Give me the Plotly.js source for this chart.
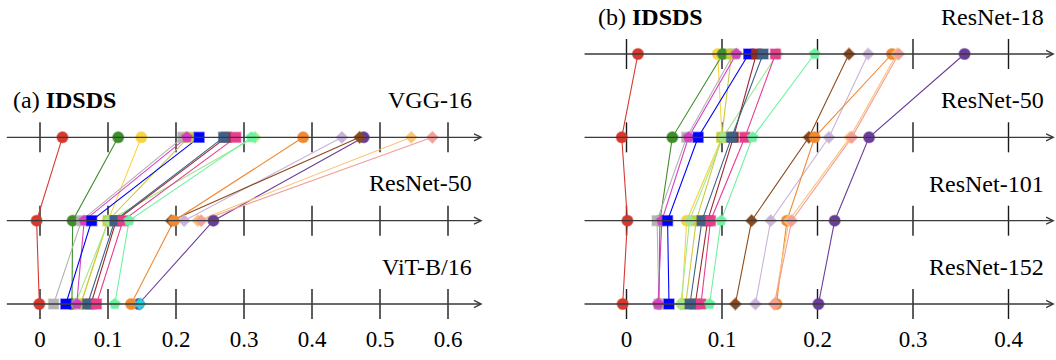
<!DOCTYPE html>
<html><head><meta charset="utf-8">
<script src="https://cdn.plot.ly/plotly-3.0.1.min.js"></script>
<style>html,body{margin:0;padding:0;background:#fff}#chart{width:1056px;height:360px}</style>
</head><body><div id="chart"></div>
<script>
// ---- data ----
const rowsA = ['VGG-16', 'ResNet-50', 'ViT-B/16'];
const rowsB = ['ResNet-18', 'ResNet-50', 'ResNet-101', 'ResNet-152'];
const ticksA = [0, 0.1, 0.2, 0.3, 0.4, 0.5, 0.6];
const ticksB = [0, 0.1, 0.2, 0.3, 0.4];
const tickTextA = ['0', '0.1', '0.2', '0.3', '0.4', '0.5', '0.6'];
const tickTextB = ['0', '0.1', '0.2', '0.3', '0.4'];
const titleA = '(a) <b>IDSDS</b>';
const titleB = '(b) <b>IDSDS</b>';

// per method: values for panel (a) rows [VGG-16, ResNet-50, ViT-B/16]
// and panel (b) rows [ResNet-18, ResNet-50, ResNet-101, ResNet-152]
const methodNames = ['yellow','red','green','gray','olive','lgdiamond','magenta','blue','darkred','slate','pink','lgpent','lavender','purple','brown','orange','lightorange','salmon','cyan'];
const valuesA = {
  yellow:      [0.149, 0.100, 0.060],
  red:         [0.033, -0.005, -0.001],
  green:       [0.115, 0.048, 0.047],
  gray:        [0.210, 0.061, 0.020],
  olive:       [0.218, 0.100, 0.060],
  lgdiamond:   [0.316, 0.101, 0.052],
  magenta:     [0.216, 0.065, 0.054],
  blue:        [0.234, 0.076, 0.038],
  darkred:     [0.274, 0.112, 0.075],
  slate:       [0.270, 0.110, 0.070],
  pink:        [0.288, 0.122, 0.083],
  lgpent:      [0.311, 0.131, 0.110],
  lavender:    [0.444, 0.212, null],
  purple:      [0.476, 0.255, 0.145],
  brown:       [0.470, 0.193, null],
  orange:      [0.387, 0.197, 0.134],
  lightorange: [0.546, 0.232, null],
  salmon:      [0.577, 0.237, null],
  cyan:        [null, null, 0.147]
};
const valuesB = {
  yellow:      [0.0955, 0.100, 0.063, 0.058],
  red:         [0.012, -0.005, 0.001, -0.004],
  green:       [0.101, 0.048, 0.035, 0.034],
  gray:        [0.112, 0.063, 0.032, 0.034],
  olive:       [0.110, 0.0997, 0.073, 0.062],
  lgdiamond:   [0.158, 0.101, 0.066, 0.057],
  magenta:     [0.115, 0.065, 0.037, 0.033],
  blue:        [0.128, 0.075, 0.043, 0.0445],
  darkred:     [0.136, 0.112, 0.085, 0.072],
  slate:       [0.143, 0.110, 0.079, 0.0665],
  pink:        [0.156, 0.124, 0.088, 0.078],
  lgpent:      [0.197, 0.132, 0.099, 0.087],
  lavender:    [0.253, 0.212, 0.151, 0.135],
  purple:      [0.354, 0.254, 0.218, 0.201],
  brown:       [0.233, 0.191, 0.131, 0.114],
  orange:      [0.278, 0.197, 0.168, 0.157],
  lightorange: [0.283, 0.234, 0.170, 0.155],
  salmon:      [0.285, 0.236, 0.173, 0.155],
  cyan:        [null, null, null, null]
};

// ---- styles ----
const styles = {
  yellow:      {color: '#f7d443', symbol: 'circle', size: 11},
  red:         {color: '#d6392e', symbol: 'circle', size: 11},
  green:       {color: '#3e8e2a', symbol: 'circle', size: 11},
  gray:        {color: '#b3b3b3', symbol: 'square', size: 10},
  olive:       {color: '#c9cc3c', symbol: 'square', size: 10},
  lgdiamond:   {color: '#a3e890', symbol: 'diamond', size: 9},
  magenta:     {color: '#d83fc4', symbol: 'pentagon', size: 11},
  blue:        {color: '#0000ff', symbol: 'square', size: 10},
  darkred:     {color: '#9a2b2b', symbol: 'square', size: 10},
  slate:       {color: '#3f6189', symbol: 'square', size: 10},
  pink:        {color: '#e83d8e', symbol: 'square', size: 10},
  lgpent:      {color: '#6ef2a0', symbol: 'pentagon', size: 11},
  lavender:    {color: '#c9b3d9', symbol: 'diamond', size: 9},
  purple:      {color: '#6a3d9a', symbol: 'circle', size: 11},
  brown:       {color: '#8b4a1c', symbol: 'diamond', size: 9},
  orange:      {color: '#f08a32', symbol: 'circle', size: 11},
  lightorange: {color: '#fcc477', symbol: 'diamond', size: 9},
  salmon:      {color: '#f2a09a', symbol: 'diamond', size: 9},
  cyan:        {color: '#22d3e0', symbol: 'diamond', size: 9}
};

const FONT = 'Liberation Serif, Times New Roman, serif';
const yA = rowsA.map((_, i) => 2 - i);   // 2,1,0
const yB = rowsB.map((_, i) => 3 - i);   // 3,2,1,0

function halo(hex) {
  const r = parseInt(hex.slice(1, 3), 16), g = parseInt(hex.slice(3, 5), 16), b = parseInt(hex.slice(5, 7), 16);
  return 'rgba(' + r + ',' + g + ',' + b + ',0.45)';
}

const traces = [];
// connecting lines first
methodNames.forEach(m => {
  const st = styles[m];
  traces.push({x: valuesA[m], y: yA, xaxis: 'x', yaxis: 'y', mode: 'lines', line: {color: st.color, width: 1.1}, hoverinfo: 'skip', showlegend: false, connectgaps: false});
  traces.push({x: valuesB[m], y: yB, xaxis: 'x2', yaxis: 'y', mode: 'lines', line: {color: st.color, width: 1.1}, hoverinfo: 'skip', showlegend: false, connectgaps: false});
});
// markers on top
methodNames.forEach(m => {
  const st = styles[m];
  const mk = {color: st.color, symbol: st.symbol, size: st.size, line: {color: halo(st.color), width: 1.5}};
  traces.push({x: valuesA[m], y: yA, xaxis: 'x', yaxis: 'y', mode: 'markers', marker: mk, name: m, showlegend: false});
  traces.push({x: valuesB[m], y: yB, xaxis: 'x2', yaxis: 'y', mode: 'markers', marker: mk, name: m, showlegend: false});
});

// axis lines with arrows, and tick marks, per row
const annotations = [];
const shapes = [];
const axA = {start: -0.051, end: 0.651};
const axB = {start: -0.0455, end: 0.4485};
function rowAxis(xref, y, ax, ticks) {
  annotations.push({xref: xref, yref: 'y', axref: xref, ayref: 'y', x: ax.end, y: y, ax: ax.start, ay: y,
    showarrow: true, arrowhead: 5, arrowsize: 1, arrowwidth: 1.4, arrowcolor: '#3a3a3a', text: ''});
  ticks.forEach(t => shapes.push({type: 'line', xref: xref, yref: 'y', x0: t, x1: t, y0: y - 0.18, y1: y + 0.18,
    line: {color: '#1a1a1a', width: 1.4}, layer: 'below'}));
}
yA.forEach(y => rowAxis('x', y, axA, ticksA));
yB.forEach(y => rowAxis('x2', y, axB, ticksB));

// titles and row labels
const lab = (xref, x, y, text, anchor) => annotations.push({xref: xref, yref: 'y', x: x, y: y, text: text,
  showarrow: false, xanchor: anchor, yanchor: 'middle', font: {family: FONT, size: 24, color: '#000'}});
lab('x', -0.043, 2.45, titleA, 'left');
lab('x2', -0.032, 3.445, titleB, 'left');
rowsA.forEach((r, i) => lab('x', 0.638, yA[i] + 0.45, r, 'right'));
rowsB.forEach((r, i) => lab('x2', 0.439, yB[i] + 0.445, r, 'right'));

const axCommon = {showgrid: false, zeroline: false, showline: false, ticks: '', fixedrange: true,
  ticklabelstandoff: 3, tickfont: {family: FONT, size: 23, color: '#000'}};
const layout = {
  width: 1056, height: 360,
  margin: {l: 0, r: 0, t: 0, b: 40},
  paper_bgcolor: '#fff', plot_bgcolor: '#fff',
  showlegend: false,
  xaxis: Object.assign({}, axCommon, {domain: [0, 0.5], range: [-40/680, 488/680], tickvals: ticksA, ticktext: tickTextA, anchor: 'y'}),
  xaxis2: Object.assign({}, axCommon, {domain: [0.5, 1], range: [(528-626.5)/955, (1056-626.5)/955], tickvals: ticksB, ticktext: tickTextB, anchor: 'y'}),
  yaxis: {domain: [0, 1], range: [-16/83.33, 3 + 54/83.33], visible: false, fixedrange: true},
  annotations: annotations,
  shapes: shapes
};
Plotly.newPlot('chart', traces, layout, {displayModeBar: false, staticPlot: true});
</script>
</body></html>
